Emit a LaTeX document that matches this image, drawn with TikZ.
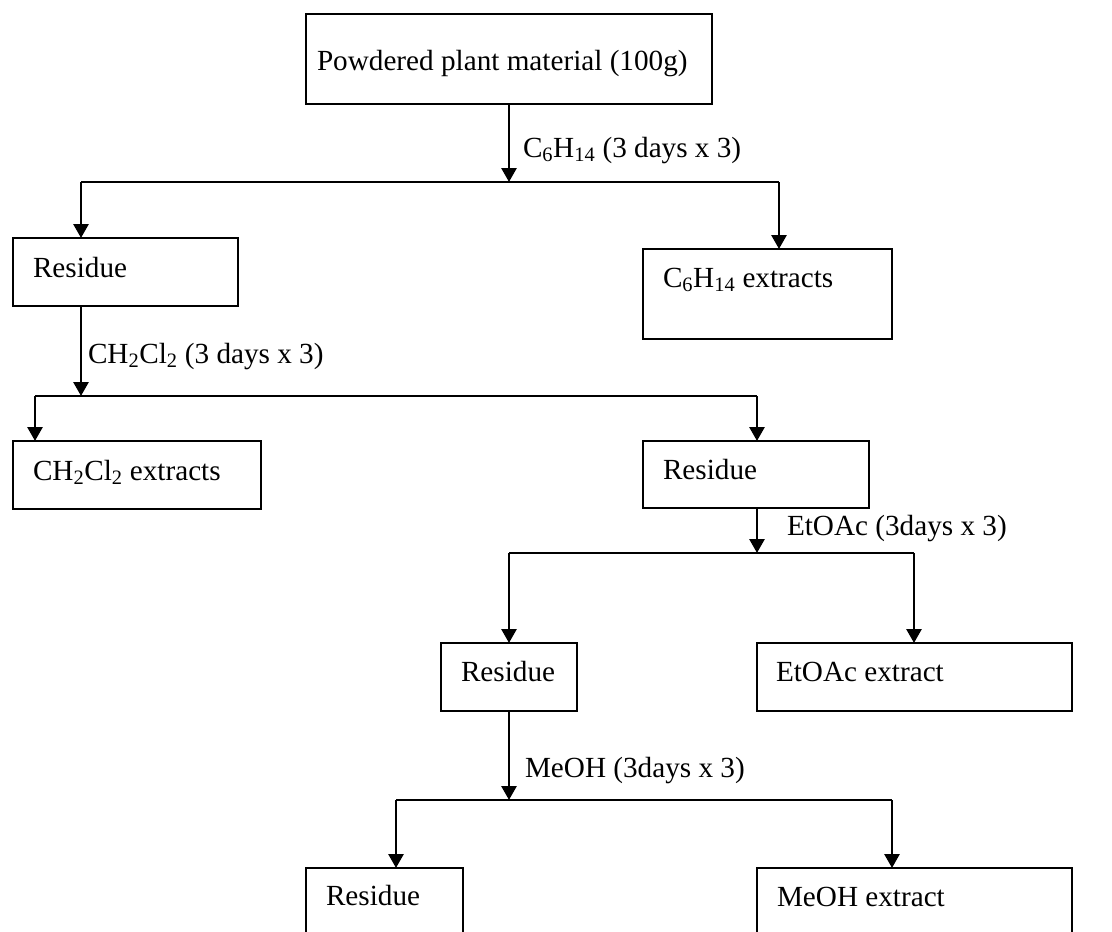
\documentclass[tikz,border=0pt]{standalone}
\usepackage{fontspec}
\setmainfont{Liberation Serif}
\usetikzlibrary{arrows.meta}
\begin{document}
\begin{tikzpicture}[x=1pt,y=-1pt,
  box/.style={draw, line width=2.6pt, inner sep=0pt, outer sep=0pt},
  txt/.style={anchor=base west, inner sep=0pt, outer sep=0pt, font=\fontsize{29.2}{35}\selectfont},
  conn/.style={line width=2.8pt},
  arr/.style={conn, -{Triangle[width=15pt,length=14pt]}}]
\useasboundingbox (0,0) rectangle (1112,932);
\clip (0,0) rectangle (1112,932);
\fill[white] (0,0) rectangle (1112,932);
% boxes
\node[box, minimum width=406pt, minimum height=90pt] (b1) at (509,59) {};
\node[box, minimum width=225pt, minimum height=68pt] (b2) at (125.5,272) {};
\node[box, minimum width=249pt, minimum height=90pt] (b3) at (767.5,294) {};
\node[box, minimum width=248pt, minimum height=68pt] (b4) at (137,475) {};
\node[box, minimum width=226pt, minimum height=67pt] (b5) at (756,474.5) {};
\node[box, minimum width=136pt, minimum height=68pt] (b6) at (509,677) {};
\node[box, minimum width=315pt, minimum height=68pt] (b7) at (914.5,677) {};
\node[box, minimum width=157pt, minimum height=100pt] (b8) at (384.5,918) {};
\node[box, minimum width=315pt, minimum height=100pt] (b9) at (914.5,918) {};
% texts
\node[txt] (t1) at (317,70) {Powdered plant material (100g)};
\node[txt] (t2) at (33,277) {Residue};
\node[txt] (t3) at (663,287) {C\textsubscript{6}H\textsubscript{14} extracts};
\node[txt] (t4) at (33,480) {CH\textsubscript{2}Cl\textsubscript{2} extracts};
\node[txt] (t5) at (663,479) {Residue};
\node[txt] (t6) at (461,681) {Residue};
\node[txt] (t7) at (776,681) {EtOAc extract};
\node[txt] (t8) at (326,905) {Residue};
\node[txt] (t9) at (777,906) {MeOH extract};
% labels
\node[txt] (l1) at (523,157) {C\textsubscript{6}H\textsubscript{14} (3 days x 3)};
\node[txt] (l2) at (88,363) {CH\textsubscript{2}Cl\textsubscript{2} (3 days x 3)};
\node[txt] (l3) at (787,535) {EtOAc (3days x 3)};
\node[txt] (l4) at (525,777) {MeOH (3days x 3)};
% junction coordinates
\coordinate (j1) at (509,182);
\coordinate (j1l) at (81,182);
\coordinate (j1r) at (779,182);
\coordinate (j2) at (81,396);
\coordinate (j2l) at (35,396);
\coordinate (j2r) at (757,396);
\coordinate (j3) at (757,553);
\coordinate (j3l) at (509,553);
\coordinate (j3r) at (914,553);
\coordinate (j4) at (509,800);
\coordinate (j4l) at (396,800);
\coordinate (j4r) at (892,800);
% connectors
\draw[arr] (b1.south) -- (j1);
\draw[conn] (j1l) -- (j1r);
\draw[arr] (j1l) -- (j1l |- b2.north);
\draw[arr] (j1r) -- (j1r |- b3.north);
\draw[arr] (b2.south -| j2) -- (j2);
\draw[conn] (j2l) -- (j2r);
\draw[arr] (j2l) -- (j2l |- b4.north);
\draw[arr] (j2r) -- (j2r |- b5.north);
\draw[arr] (b5.south -| j3) -- (j3);
\draw[conn] (j3l) -- (j3r);
\draw[arr] (j3l) -- (j3l |- b6.north);
\draw[arr] (j3r) -- (j3r |- b7.north);
\draw[arr] (b6.south -| j4) -- (j4);
\draw[conn] (j4l) -- (j4r);
\draw[arr] (j4l) -- (j4l |- b8.north);
\draw[arr] (j4r) -- (j4r |- b9.north);
\end{tikzpicture}
\end{document}
